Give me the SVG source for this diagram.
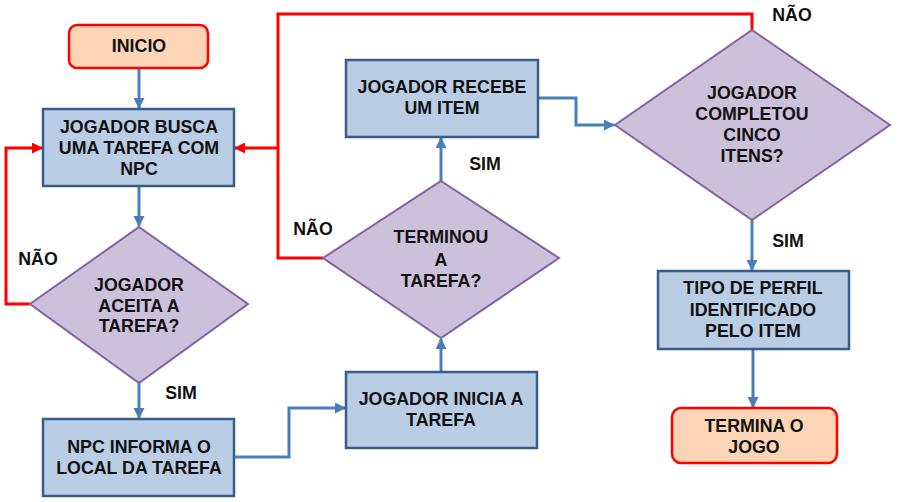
<svg xmlns="http://www.w3.org/2000/svg" width="898" height="502" viewBox="0 0 898 502">
<style>
text{font-family:"Liberation Sans",Arial,sans-serif;font-weight:bold;font-size:17.8px;fill:#111;text-anchor:middle}
.box{fill:#B9CDE5;stroke:#385D8A;stroke-width:2.5}
.dia{fill:#CCC1DA;stroke:#8064A2;stroke-width:2}
.term{fill:#FBD5B5;stroke:#FF0000;stroke-width:2.5}
.bl{fill:none;stroke:#4A7EBB;stroke-width:3}
.rd{fill:none;stroke:#FF0000;stroke-width:3}
</style>
<defs>
<marker id="ab" markerWidth="11" markerHeight="11" refX="10" refY="5.5" orient="auto" markerUnits="userSpaceOnUse"><path d="M0,0 L11,5.5 L0,11 z" fill="#4A7EBB"/></marker>
<marker id="ar" markerWidth="11" markerHeight="11" refX="10" refY="5.5" orient="auto" markerUnits="userSpaceOnUse"><path d="M0,0 L11,5.5 L0,11 z" fill="#FF0000"/></marker>
</defs>
<rect width="898" height="502" fill="#fff"/>
<g id="connectors">
<path class="bl" d="M139,68 V108" marker-end="url(#ab)"/>
<path class="bl" d="M139,186 V226" marker-end="url(#ab)"/>
<path class="bl" d="M139,383 V418" marker-end="url(#ab)"/>
<path class="bl" d="M234,457 H289 V408 H345" marker-end="url(#ab)"/>
<path class="bl" d="M441,372 V339" marker-end="url(#ab)"/>
<path class="bl" d="M441,181 V138" marker-end="url(#ab)"/>
<path class="bl" d="M538,98 H576 V125 H614" marker-end="url(#ab)"/>
<path class="bl" d="M752,220 V270" marker-end="url(#ab)"/>
<path class="bl" d="M753,349 V407" marker-end="url(#ab)"/>
<path class="rd" d="M30,304 H6 V148 H42" marker-end="url(#ar)"/>
<path class="rd" d="M323,258 H278 V14 H752 V30"/>
<path class="rd" d="M278,148 H235" marker-end="url(#ar)"/>
<text x="38" y="265">NÃO</text>
<text x="181" y="399">SIM</text>
<text x="313" y="235">NÃO</text>
<text x="485" y="170">SIM</text>
<text x="792" y="21">NÃO</text>
<text x="788" y="247">SIM</text>
</g>
<g id="inicio">
<rect class="term" x="69" y="25" width="139" height="43" rx="8"/>
<text x="139" y="52">INICIO</text>
</g>
<g id="busca">
<rect class="box" x="43" y="109" width="191" height="77"/>
<text x="139" y="133">JOGADOR BUSCA</text>
<text x="139" y="154">UMA TAREFA COM</text>
<text x="139" y="175">NPC</text>
</g>
<g id="aceita">
<path class="dia" d="M139,227 L248,304 L139,383 L30,304 z"/>
<text x="139" y="291">JOGADOR</text>
<text x="139" y="312">ACEITA A</text>
<text x="139" y="332">TAREFA?</text>
</g>
<g id="informa">
<rect class="box" x="43" y="419" width="191" height="77"/>
<text x="139" y="453">NPC INFORMA O</text>
<text x="139" y="474">LOCAL DA TAREFA</text>
</g>
<g id="inicia">
<rect class="box" x="346" y="372" width="191" height="76"/>
<text x="441" y="405">JOGADOR INICIA A</text>
<text x="441" y="426">TAREFA</text>
</g>
<g id="terminou">
<path class="dia" d="M441,181 L559,258 L441,338 L323,258 z"/>
<text x="441" y="243">TERMINOU</text>
<text x="441" y="266">A</text>
<text x="441" y="287">TAREFA?</text>
</g>
<g id="recebe">
<rect class="box" x="346" y="60" width="192" height="77"/>
<text x="442" y="93">JOGADOR RECEBE</text>
<text x="442" y="114">UM ITEM</text>
</g>
<g id="completou">
<path class="dia" d="M752,30 L890,125 L752,220 L615,125 z"/>
<text x="752" y="99">JOGADOR</text>
<text x="752" y="120">COMPLETOU</text>
<text x="752" y="141">CINCO</text>
<text x="752" y="162">ITENS?</text>
</g>
<g id="perfil">
<rect class="box" x="658" y="271" width="191" height="78"/>
<text x="753" y="294">TIPO DE PERFIL</text>
<text x="753" y="316">IDENTIFICADO</text>
<text x="753" y="337">PELO ITEM</text>
</g>
<g id="termina">
<rect class="term" x="672" y="408" width="165" height="55" rx="9"/>
<text x="754" y="432">TERMINA O</text>
<text x="754" y="453">JOGO</text>
</g>
</svg>
